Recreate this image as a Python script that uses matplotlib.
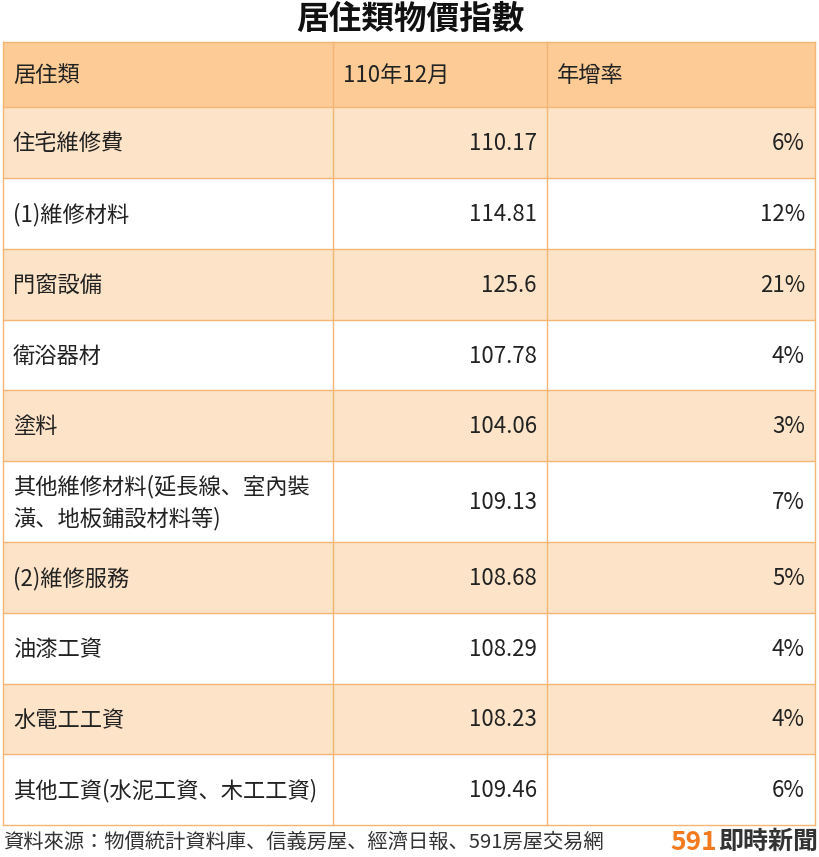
import matplotlib
matplotlib.use("Agg")
import matplotlib.pyplot as plt
from matplotlib.patches import Rectangle
from matplotlib import font_manager

title = "居住類物價指數"
headers = ["居住類", "110年12月", "年增率"]
categories = ["住宅維修費", "(1)維修材料", "門窗設備", "衛浴器材", "塗料",
              "其他維修材料(延長線、室內裝\n潢、地板鋪設材料等)", "(2)維修服務",
              "油漆工資", "水電工工資", "其他工資(水泥工資、木工工資)"]
index_values = ["110.17", "114.81", "125.6", "107.78", "104.06", "109.13",
                "108.68", "108.29", "108.23", "109.46"]
growth = ["6%", "12%", "21%", "4%", "3%", "7%", "5%", "4%", "4%", "6%"]
source = "資料來源：物價統計資料庫、信義房屋、經濟日報、591房屋交易網"

names = {f.name for f in font_manager.fontManager.ttflist}
cands = [n for n in ["Noto Sans CJK TC", "Noto Sans CJK JP", "Noto Sans CJK SC",
                     "Noto Sans CJK KR", "Noto Sans TC", "Noto Sans JP"] if n in names]
cands += [n for n in sorted(names) if "CJK" in n]
plt.rcParams["font.family"] = cands + ["DejaVu Sans"]

fig = plt.figure(figsize=(8.2, 8.57), dpi=100)
ax = fig.add_axes([0, 0, 1, 1])
ax.set_xlim(0, 820); ax.set_ylim(857, 0); ax.axis("off")

cols = [3, 333, 547, 815]
rows = [42, 107, 178, 249, 320, 390, 461, 542, 613, 684, 754, 825]
header_c = "#FCCB96"
band_c = "#FDE4C9"
line_c = "#F5B574"
text_c = "#222222"
fs = 16

ax.text(410, 19, title, ha="center", va="center", fontsize=23.5, fontweight="bold",
        color="#111111")

for r in range(len(rows) - 1):
    y0, y1 = rows[r], rows[r + 1]
    if r == 0:
        fc = header_c
    else:
        fc = band_c if (r - 1) % 2 == 0 else "white"
    ax.add_patch(Rectangle((cols[0], y0), cols[-1] - cols[0], y1 - y0, fc=fc, ec="none"))
    ym = (y0 + y1) / 2 + 1
    if r == 0:
        for c, h in enumerate(headers):
            ax.text(cols[c] + 10, ym, h, ha="left", va="center", fontsize=fs, color=text_c)
    else:
        i = r - 1
        ax.text(cols[0] + 10, ym, categories[i], ha="left", va="center", fontsize=fs,
                color=text_c, linespacing=1.45)
        ax.text(cols[2] - 10, ym, index_values[i], ha="right", va="center", fontsize=fs,
                color=text_c)
        ax.text(cols[3] - 10, ym, growth[i], ha="right", va="center", fontsize=fs,
                color=text_c)

for y in rows:
    ax.plot([cols[0], cols[-1]], [y, y], color=line_c, lw=1)
for x in cols:
    ax.plot([x, x], [rows[0], rows[-1]], color=line_c, lw=1)

ax.text(3, 842, source, ha="left", va="center", fontsize=14.6, color="#333333")
ax.text(670, 842, "591", ha="left", va="center", fontsize=19, fontweight="bold",
        color="#F47A20")
ax.text(718, 842, "即時新聞", ha="left", va="center", fontsize=18, fontweight="bold",
        color="#333333")

fig.savefig("out.png", dpi=100)
